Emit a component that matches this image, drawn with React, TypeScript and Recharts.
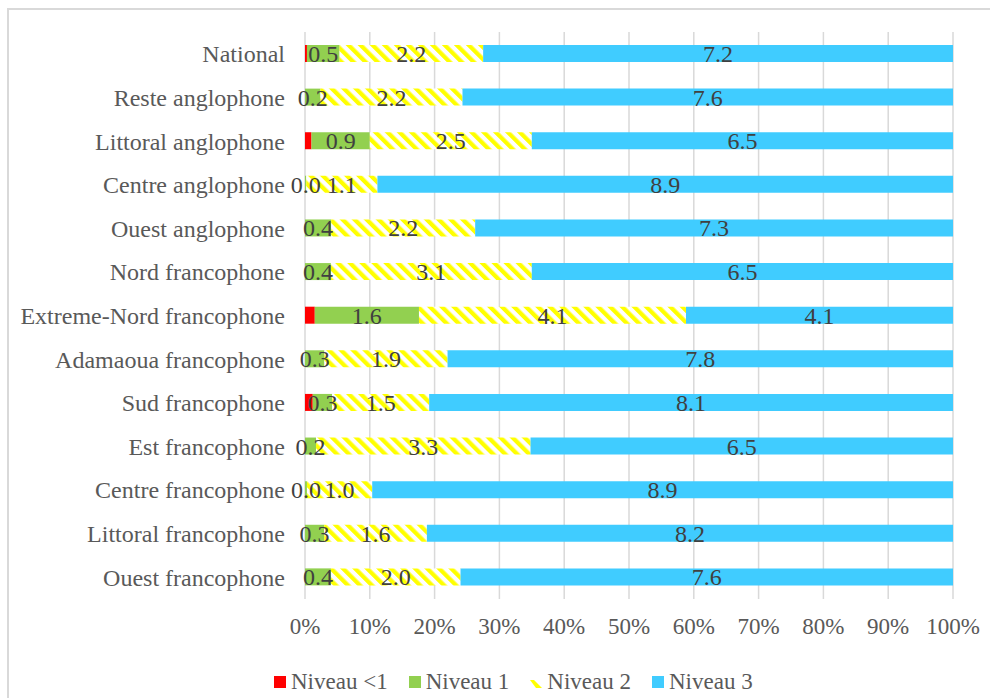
import React from 'react';
import { BarChart, Bar, XAxis, YAxis, CartesianGrid, LabelList, Legend } from 'recharts';

const categories = [
  'National', 'Reste anglophone', 'Littoral anglophone', 'Centre anglophone', 'Ouest anglophone',
  'Nord francophone', 'Extreme-Nord francophone', 'Adamaoua francophone', 'Sud francophone',
  'Est francophone', 'Centre francophone', 'Littoral francophone', 'Ouest francophone',
];
const niveauMoins1 = [0.03, 0, 0.1, 0, 0, 0, 0.15, 0, 0.12, 0, 0, 0, 0];
const niveau1 = [0.5, 0.24, 0.9, 0.02, 0.4, 0.4, 1.6, 0.3, 0.3, 0.17, 0.03, 0.3, 0.4];
const niveau2 = [2.2, 2.2, 2.5, 1.1, 2.2, 3.1, 4.1, 1.9, 1.5, 3.3, 1.0, 1.6, 2.0];
const niveau3 = [7.2, 7.6, 6.5, 8.9, 7.3, 6.5, 4.1, 7.8, 8.1, 6.5, 8.9, 8.2, 7.6];
const xTicks = [0, 0.1, 0.2, 0.3, 0.4, 0.5, 0.6, 0.7, 0.8, 0.9, 1];
const seriesNames = ['Niveau <1', 'Niveau 1', 'Niveau 2', 'Niveau 3'];

const data = categories.map((name, i) => ({
  name,
  n0: niveauMoins1[i],
  n1: niveau1[i],
  n2: niveau2[i],
  n3: niveau3[i],
}));

const FONT = "'Liberation Serif', 'Times New Roman', serif";
const AXIS_COLOR = '#595959';
const VALUE_COLOR = '#404040';
const FS_CAT = 24;
const FS_VAL = 24;
const FS_TICK = 23;
const FS_LEG = 23;

const fmt = (v: any) => (typeof v === 'number' ? v.toFixed(1) : v);

const LegendContent = () => {
  const items = [
    { name: seriesNames[0], fill: '#FF0000' },
    { name: seriesNames[1], fill: '#92D050' },
    { name: seriesNames[2], fill: 'pattern' },
    { name: seriesNames[3], fill: '#40CCFF' },
  ];
  return (
    <div style={{ display: 'flex', alignItems: 'center', fontFamily: FONT, fontSize: FS_LEG, color: AXIS_COLOR }}>
      {items.map((it) => (
        <div key={it.name} style={{ display: 'flex', alignItems: 'center', marginRight: 21 }}>
          <svg width={12} height={12} style={{ marginRight: 5 }}>
            {it.fill === 'pattern' ? (
              <polygon points="0,4 4,4 12,12 6,12" fill="#FFFF00" />
            ) : (
              <rect x={0} y={0} width={12} height={12} fill={it.fill} />
            )}
          </svg>
          <span>{it.name}</span>
        </div>
      ))}
    </div>
  );
};

export default function App() {
  return (
    <div style={{ position: 'absolute', left: 0, top: 0, width: 990, height: 698, overflow: 'hidden', background: '#fff' }}>
      <div style={{ position: 'absolute', left: 7, top: 8, width: 1000, height: 720, border: '2px solid #D9D9D9', boxSizing: 'border-box' }} />
      <div style={{ position: 'absolute', left: 0, top: 0 }}>
        <BarChart
          width={990}
          height={698}
          data={data}
          layout="vertical"
          stackOffset="expand"
          barSize={17}
          margin={{ top: 32, right: 37, left: 0, bottom: 31 }}
        >
          <defs>
            <pattern id="stripes" width="8.5" height="8.5" patternUnits="userSpaceOnUse" patternTransform="rotate(-45)">
              <rect x="0" y="0" width="8.5" height="8.5" fill="#FFFFFF" />
              <rect x="0" y="0" width="4.25" height="8.5" fill="#FFFF00" />
            </pattern>
          </defs>
          <CartesianGrid horizontal={false} stroke="#D9D9D9" strokeWidth={1.5} />
          <XAxis
            type="number"
            domain={[0, 1]}
            ticks={xTicks}
            tickFormatter={(v: number) => `${Math.round(v * 100)}%`}
            axisLine={false}
            tickLine={false}
            tickSize={0}
            tickMargin={19}
            height={40}
            tick={{ fill: AXIS_COLOR, fontFamily: FONT, fontSize: FS_TICK }}
            interval={0}
          />
          <YAxis
            type="category"
            dataKey="name"
            width={305}
            axisLine={false}
            tickLine={false}
            tickSize={0}
            tickMargin={20}
            interval={0}
            tick={{ fill: AXIS_COLOR, fontFamily: FONT, fontSize: FS_CAT }}
          />
          <Bar dataKey="n0" name={seriesNames[0]} stackId="a" fill="#FF0000" isAnimationActive={false} />
          <Bar dataKey="n1" name={seriesNames[1]} stackId="a" fill="#92D050" isAnimationActive={false}>
            <LabelList dataKey="n1" position="center" formatter={fmt} fill={VALUE_COLOR} fontFamily={FONT} fontSize={FS_VAL} />
          </Bar>
          <Bar dataKey="n2" name={seriesNames[2]} stackId="a" fill="url(#stripes)" isAnimationActive={false}>
            <LabelList dataKey="n2" position="center" formatter={fmt} fill={VALUE_COLOR} fontFamily={FONT} fontSize={FS_VAL} />
          </Bar>
          <Bar dataKey="n3" name={seriesNames[3]} stackId="a" fill="#40CCFF" isAnimationActive={false}>
            <LabelList dataKey="n3" position="center" formatter={fmt} fill={VALUE_COLOR} fontFamily={FONT} fontSize={FS_VAL} />
          </Bar>
          <Legend
            verticalAlign="bottom"
            content={<LegendContent />}
            wrapperStyle={{ position: 'absolute', left: 274, top: 669, bottom: 'auto', width: 600, height: 28 }}
          />
        </BarChart>
      </div>
    </div>
  );
}
